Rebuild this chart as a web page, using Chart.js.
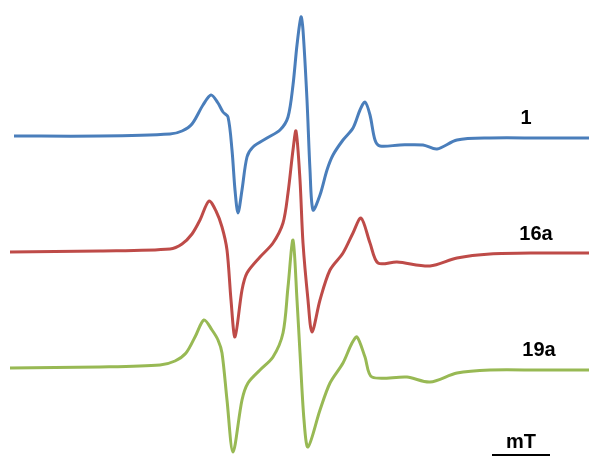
<!DOCTYPE html>
<html>
<head>
<meta charset="utf-8">
<script src="https://cdn.jsdelivr.net/npm/chart.js@4"></script>
<style>
  html, body { margin: 0; padding: 0; background: #fff; }
  #wrap { width: 589px; height: 456px; }
</style>
</head>
<body>
<div id="wrap"><canvas id="epr" width="589" height="456"></canvas></div>
<script>
// Spektrum EPR: tiga sampel, digeser vertikal (satuan medan arbitrer)
const names = ['1', '16a', '19a'];
const baselines = [320, 204, 88];

const field1 = [14, 100, 170, 182, 192, 203, 211, 218, 223, 228, 232, 235, 238, 242, 247, 253, 267, 280, 288, 293, 297, 301, 303, 307, 310, 313, 320, 327, 333, 343, 353, 360, 365, 370, 375, 380, 400, 423, 437, 457, 490, 540, 589];
const signal1 = [0, 0, 2, 5, 12, 31, 41, 33, 24, 19, -14, -54, -77, -54, -21, -11, -2, 6, 19, 51, 91, 119, 106, 36, -34, -74, -59, -34, -19, -4, 8, 26, 34, 21, -4, -10, -9, -9, -13, -4, -2, -2, -2];

const field16a = [10, 100, 170, 182, 192, 200, 209, 216, 222, 227, 231, 235, 242, 247, 260, 273, 283, 288, 293, 296, 300, 303, 308, 312, 320, 330, 343, 353, 361, 370, 378, 397, 430, 457, 490, 540, 589];
const signal16a = [0, 1, 3, 8, 18, 32, 51, 41, 25, 2, -48, -85, -38, -21, -5, 9, 29, 59, 102, 121, 72, 9, -48, -80, -48, -18, -1, 19, 34, 9, -11, -10, -14, -6, -2, -1, -1];

const field19a = [10, 100, 160, 175, 186, 195, 204, 212, 218, 222, 227, 233, 242, 248, 260, 273, 283, 288, 293, 297, 300, 304, 308, 320, 330, 343, 352, 357, 365, 372, 407, 430, 457, 490, 540, 589];
const signal19a = [0, 1, 3, 7, 15, 31, 48, 38, 28, 15, -32, -84, -32, -15, -2, 11, 35, 81, 128, 68, 15, -52, -79, -42, -15, 5, 25, 31, 11, -9, -9, -14, -5, -2, -2, -2];

const colors = ['#4a7ebb', '#be4b48', '#98b954'];

// penanda skala mT (dalam satuan medan yang sama)
const scaleBarFrom = 492;
const scaleBarTo = 550;

function toPoints(xs, ys, offset) {
    return xs.map((x, i) => ({ x: x, y: ys[i] + offset }));
}

const fields = [field1, field16a, field19a];
const signals = [signal1, signal16a, signal19a];

const datasets = names.map((n, i) => ({
    label: n,
    data: toPoints(fields[i], signals[i], baselines[i]),
    borderColor: colors[i],
    borderWidth: 3,
    pointRadius: 0,
    fill: false,
    tension: 0.3,
    clip: false
}));

// Label nama sampel + batang skala mT
const labelPlugin = {
    id: 'eprLabels',
    afterDatasetsDraw(chart) {
        const ctx = chart.ctx;
        const xs = chart.scales.x, ys = chart.scales.y;
        const labelX = [526, 536, 539];
        ctx.save();
        ctx.fillStyle = '#000';
        ctx.font = 'bold 20px "Liberation Sans", Arial, sans-serif';
        ctx.textAlign = 'center';
        ctx.textBaseline = 'middle';
        names.forEach((n, i) => {
            ctx.fillText(n, xs.getPixelForValue(labelX[i]), ys.getPixelForValue(baselines[i] + 18));
        });
        ctx.fillText('mT', xs.getPixelForValue((scaleBarFrom + scaleBarTo) / 2), 442);
        ctx.strokeStyle = '#000';
        ctx.lineWidth = 2;
        ctx.beginPath();
        ctx.moveTo(xs.getPixelForValue(scaleBarFrom), 455);
        ctx.lineTo(xs.getPixelForValue(scaleBarTo), 455);
        ctx.stroke();
        ctx.restore();
    }
};

try {
    new Chart(document.getElementById('epr'), {
        type: 'line',
        data: { datasets: datasets },
        options: {
            responsive: false,
            animation: false,
            layout: { padding: 0 },
            plugins: {
                legend: { display: false },
                tooltip: { enabled: false },
                title: { display: false }
            },
            scales: {
                x: { type: 'linear', min: 0, max: 589, display: false },
                y: { min: 0, max: 456, display: false }
            }
        },
        plugins: [labelPlugin]
    });
} catch (err) { console.error('Error rendering EPR chart:', err); }
</script>
</body>
</html>
